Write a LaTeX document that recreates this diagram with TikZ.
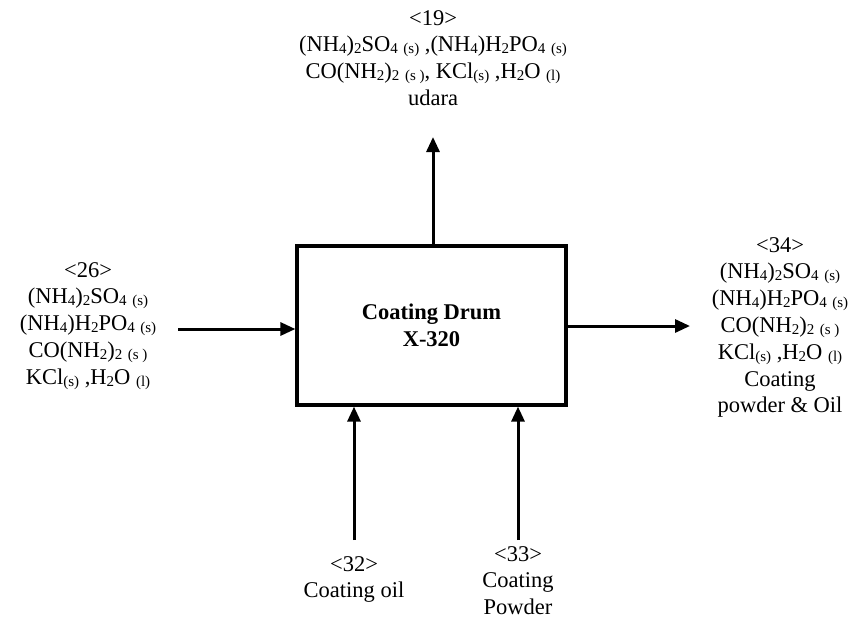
\documentclass[tikz,border=0pt]{standalone}
\usepackage{fontspec}
\setmainfont{Liberation Serif}
\usetikzlibrary{arrows.meta}
\newcommand{\sbs}[1]{\raisebox{-2pt}{\fontsize{15}{15}\selectfont #1}}
\begin{document}
\begin{tikzpicture}[x=1pt,y=-1pt,
  lbl/.style={align=center,inner sep=0pt,font=\fontsize{22.5}{26.8}\selectfont},
  flow/.style={line width=3pt,-{Triangle[length=15pt,width=13pt]}},
  unit/.style={draw,line width=3.2pt,minimum width=269pt,minimum height=159pt,inner sep=0pt,font=\bfseries\fontsize{22.5}{27}\selectfont,align=center}]
\useasboundingbox (0,0) rectangle (854,619);
\node[unit] (drum) at (431.5,325.5) {Coating Drum\\X-320};
\node[lbl,anchor=north] (s19) at (433,10) {<19>\\(NH\sbs{4})\sbs{2}SO\sbs{4} \sbs{(s)} ,(NH\sbs{4})H\sbs{2}PO\sbs{4} \sbs{(s)}\\CO(NH\sbs{2})\sbs{2} \sbs{(s )}, KCl\sbs{(s)} ,H\sbs{2}O \sbs{(l)}\\udara};
\node[lbl,anchor=north] (s26) at (88,262) {<26>\\(NH\sbs{4})\sbs{2}SO\sbs{4} \sbs{(s)}\\(NH\sbs{4})H\sbs{2}PO\sbs{4} \sbs{(s)}\\CO(NH\sbs{2})\sbs{2} \sbs{(s )}\\KCl\sbs{(s)} ,H\sbs{2}O \sbs{(l)}};
\node[lbl,anchor=north] (s34) at (780,237) {<34>\\(NH\sbs{4})\sbs{2}SO\sbs{4} \sbs{(s)}\\(NH\sbs{4})H\sbs{2}PO\sbs{4} \sbs{(s)}\\CO(NH\sbs{2})\sbs{2} \sbs{(s )}\\KCl\sbs{(s)} ,H\sbs{2}O \sbs{(l)}\\Coating\\powder \& Oil};
\node[lbl,anchor=north] (s32) at (354,556) {<32>\\Coating oil};
\node[lbl,anchor=north] (s33) at (518,546) {<33>\\Coating\\Powder};
\coordinate (a19) at (433,137);
\coordinate (a26) at (178,329);
\coordinate (a34) at (690,326);
\coordinate (a32) at (354,540);
\coordinate (a33) at (518,540);
\draw[flow] (drum.north -| a19) -- (a19);
\draw[flow] (a26) -- (a26 -| drum.west);
\draw[flow] (a34 -| drum.east) -- (a34);
\draw[flow] (a32) -- (a32 |- drum.south);
\draw[flow] (a33) -- (a33 |- drum.south);
\end{tikzpicture}
\end{document}
